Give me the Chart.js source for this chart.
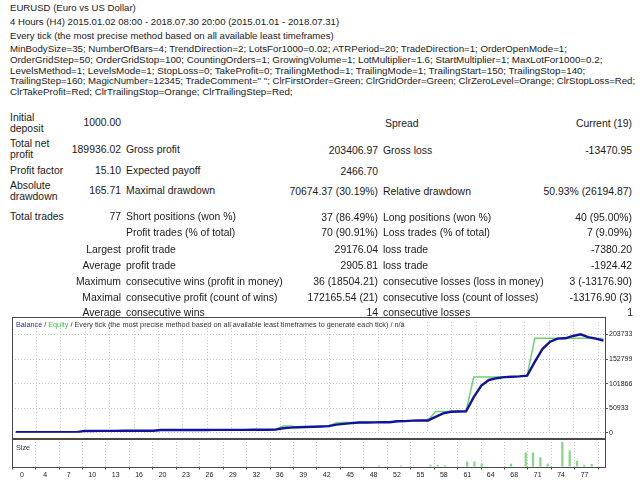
<!DOCTYPE html>
<html>
<head>
<meta charset="utf-8">
<script src="https://cdn.jsdelivr.net/npm/chart.js@4.4.1/dist/chart.umd.min.js"></script>
<style>
html, body { margin: 0; padding: 0; background: #fff; }
body { width: 640px; height: 480px; position: relative; overflow: hidden;
       font-family: "Liberation Sans", Arial, sans-serif; font-size: 9.5px; color: #1a1a1a; }
.t { position: absolute; white-space: nowrap; line-height: 11px; }
.frame { position: absolute; border: 1px solid #4a4a4a; box-sizing: border-box; pointer-events: none; }
.wrap { position: absolute; }
.small { color: #333; }
</style>
</head>
<body>
<div class="wrap" style="left:12px;top:317px;width:628px;height:121px;"><canvas id="equityChart"></canvas></div>
<div class="wrap" style="left:12px;top:438px;width:628px;height:42px;"><canvas id="sizeChart"></canvas></div>
<div class="frame" style="left:12px;top:317px;width:594px;height:122px;"></div>
<div class="frame" style="left:12px;top:439px;width:594px;height:29px;"></div>
<div id="legend" class="t small" style="left:16px;top:319px;"><span style="color:#2b2ba6">Balance</span> / <span style="color:#3cbf3c">Equity</span> / Every tick (the most precise method based on all available least timeframes to generate each tick) / n/a</div>
<div id="sizeLabel" class="t small" style="left:16px;top:442px;">Size</div>

<script>
// balance (blue) and equity (green) after each trade, trade 0 = initial deposit
const balance = [
    1000, 1046, 1093, 1141, 1190, 1262, 1310, 1371, 1425, 3790,
    3850, 3910, 3985, 4040, 4110, 4170, 4230, 4300, 4380, 5690,
    5720, 5760, 5800, 5830, 5870, 5920, 5960, 6010, 6060, 6100,
    6150, 6190, 6240, 6300, 6500, 9500, 10700, 11400, 11900, 12500,
    13200, 13900, 16900, 18600, 20100, 21200, 21400, 21500, 21700, 21900,
    24000, 24200, 25200, 25400, 25600, 33000, 40400, 43700, 44100, 44500,
    74000, 98000, 109400, 113100, 115300, 116200, 116900, 118400, 147000, 173500,
    188600, 195100, 195800, 200600, 204113, 198200, 195000, 190936
];
const equity = [
    1000, 1046, 1093, 1141, 1190, 1262, 1310, 1371, 1425, 3790,
    3850, 3910, 3985, 4040, 4110, 4170, 4230, 4300, 4380, 5690,
    5720, 5760, 5800, 5830, 5870, 5920, 5960, 6010, 6060, 6100,
    6150, 6190, 6240, 6300, 6500, 13900, 13900, 11400, 11900, 12500,
    13200, 13900, 21000, 21100, 21200, 21200, 21400, 21500, 21700, 21900,
    24000, 24200, 25200, 25400, 25600, 44300, 44300, 44300, 44300, 44500,
    115600, 115700, 115700, 115800, 115800, 116200, 116900, 118400, 195600, 195600,
    195700, 195700, 195800, 195800, 195800, 195700, 195500, 195300
];

// lot size of the trades that show a bar in the Size panel
const sizeTrades = [48, 51, 55, 56, 57, 60, 61, 62, 66, 68, 69, 70, 71, 73, 74, 75, 76, 77];
const sizeLots   = [0.4, 0.4, 0.9, 0.7, 0.5, 2.6, 2.6, 1.6, 1.4, 7.7, 7.7, 5.1, 1.4, 13.5, 8.8, 2.9, 0.9, 1.2];

const xTickLabels = ['0', '4', '7', '10', '13', '16', '20', '23', '26', '29', '32', '36', '39',
                     '42', '45', '48', '52', '55', '58', '61', '64', '68', '71', '74', '77'];
const xTickStep = 3.2;
const yTickValues = [0, 50933, 101866, 152799, 203733];

const FONT = '"Liberation Sans", Arial, sans-serif';
const GRID = '#c4c4c4';

// size a font so that a sample string gets the width it has in the reference
const measureCtx = document.createElement('canvas').getContext('2d');
function fitSize(str, width) {
    measureCtx.font = '10px ' + FONT;
    return 10 * width / measureCtx.measureText(str).width;
}
const headSize = 9.6;
const tableSize = fitSize('consecutive wins (profit in money)', 157);

const paramLines = [
    ['MinBodySize=35; NumberOfBars=4; TrendDirection=2; LotsFor1000=0.02; ATRPeriod=20; TradeDirection=1; OrderOpenMode=1;', 559],
    ['OrderGridStep=50; OrderGridStop=100; CountingOrders=1; GrowingVolume=1; LotMultiplier=1.6; StartMultiplier=1; MaxLotFor1000=0.2;', 593],
    ['LevelsMethod=1; LevelsMode=1; StopLoss=0; TakeProfit=0; TrailingMethod=1; TrailingMode=1; TrailingStart=150; TrailingStop=140;', 577],
    ['TrailingStep=160; MagicNumber=12345; TradeComment=" "; ClrFirstOrder=Green; ClrGridOrder=Green; ClrZeroLevel=Orange; ClrStopLoss=Red;', 626],
    ['ClrTakeProfit=Red; ClrTrailingStop=Orange; ClrTrailingStep=Red;', 0]
];
const paramSizes = paramLines.filter(p => p[1]).map(p => fitSize(p[0], p[1]));
const paramSize = paramSizes.reduce((a, b) => a + b, 0) / paramSizes.length;

// text part of the report: x, y (centre line), text, align, font size
const textRows = [
    [10, 7, 'EURUSD (Euro vs US Dollar)', 'l', headSize],
    [10, 21, '4 Hours (H4) 2015.01.02 08:00 - 2018.07.30 20:00 (2015.01.01 - 2018.07.31)', 'l', headSize],
    [10, 35, 'Every tick (the most precise method based on all available least timeframes)', 'l', headSize],

    [10, 117, 'Initial'], [10, 128, 'deposit'], [121, 122, '1000.00', 'r'],
    [385, 123, 'Spread'], [632, 123, 'Current (19)', 'r'],

    [10, 143, 'Total net'], [10, 154, 'profit'], [121, 149, '189936.02', 'r'], [126, 149, 'Gross profit'],
    [378, 150, '203406.97', 'r'], [383, 150, 'Gross loss'], [632, 150, '-13470.95', 'r'],

    [10, 170, 'Profit factor'], [121, 170, '15.10', 'r'], [126, 170, 'Expected payoff'], [378, 171, '2466.70', 'r'],

    [10, 185, 'Absolute'], [10, 196, 'drawdown'], [121, 190, '165.71', 'r'], [126, 190, 'Maximal drawdown'],
    [378, 191, '70674.37 (30.19%)', 'r'], [383, 191, 'Relative drawdown'], [632, 191, '50.93% (26194.87)', 'r'],

    [10, 216, 'Total trades'], [121, 216, '77', 'r'], [126, 216, 'Short positions (won %)'],
    [378, 217, '37 (86.49%)', 'r'], [383, 217, 'Long positions (won %)'], [632, 217, '40 (95.00%)', 'r'],

    [126, 232, 'Profit trades (% of total)'], [378, 232, '70 (90.91%)', 'r'],
    [383, 232, 'Loss trades (% of total)'], [632, 232, '7 (9.09%)', 'r'],

    [121, 249, 'Largest', 'r'], [126, 249, 'profit trade'], [378, 249, '29176.04', 'r'],
    [383, 249, 'loss trade'], [632, 249, '-7380.20', 'r'],

    [121, 265, 'Average', 'r'], [126, 265, 'profit trade'], [378, 265, '2905.81', 'r'],
    [383, 265, 'loss trade'], [632, 265, '-1924.42', 'r'],

    [121, 281, 'Maximum', 'r'], [126, 281, 'consecutive wins (profit in money)'], [378, 281, '36 (18504.21)', 'r'],
    [383, 281, 'consecutive losses (loss in money)'], [632, 281, '3 (-13176.90)', 'r'],

    [121, 297, 'Maximal', 'r'], [126, 297, 'consecutive profit (count of wins)'], [378, 297, '172165.54 (21)', 'r'],
    [383, 297, 'consecutive loss (count of losses)'], [632, 297, '-13176.90 (3)', 'r'],

    [121, 312, 'Average', 'r'], [126, 312, 'consecutive wins'], [378, 312, '14', 'r'],
    [383, 312, 'consecutive losses'], [633, 312, '1', 'r']
];
paramLines.forEach(([str, width], i) => {
    textRows.push([10, [48, 59, 70, 80, 91][i], str, 'l', width ? paramSizes[i] : paramSize]);
});

textRows.forEach(([x, y, str, align, size]) => {
    const d = document.createElement('div');
    d.className = 't';
    d.textContent = str;
    d.style.top = (y - 5.5) + 'px';
    d.style.fontSize = (size || tableSize) + 'px';
    if (align === 'r') d.style.right = (640 - x) + 'px';
    else d.style.left = x + 'px';
    document.body.appendChild(d);
});

const legendSize = fitSize(document.getElementById('legend').textContent, 389);
document.getElementById('legend').style.fontSize = legendSize + 'px';
document.getElementById('sizeLabel').style.fontSize = legendSize + 'px';

function xScale(showLabels) {
    return {
        type: 'linear',
        min: -0.5,
        max: 77.2,
        afterBuildTicks: s => { s.ticks = xTickLabels.map((_, i) => ({ value: i * xTickStep - 0.5 })); },
        afterFit: s => { if (!showLabels) s.height = 0; },
        ticks: {
            display: showLabels,
            autoSkip: false,
            maxRotation: 0,
            padding: 1,
            labelOffset: -2,
            color: '#222',
            font: { family: FONT, size: 7 },
            callback: (v, i) => xTickLabels[i]
        },
        grid: { color: GRID, drawTicks: showLabels, tickLength: 3, tickColor: '#555', tickBorderDash: [] },
        border: { display: false, dash: [1, 2] }
    };
}

new Chart(document.getElementById('equityChart').getContext('2d'), {
    type: 'line',
    data: {
        datasets: [{
            label: 'Balance',
            data: balance.map((v, i) => ({ x: i, y: v })),
            borderColor: '#12129c',
            borderWidth: 2.4,
            pointRadius: 0,
            tension: 0
        }, {
            label: 'Equity',
            data: equity.map((v, i) => ({ x: i, y: v })),
            borderColor: '#6fd06f',
            borderWidth: 1.5,
            pointRadius: 0,
            tension: 0
        }]
    },
    options: {
        responsive: true,
        maintainAspectRatio: false,
        animation: false,
        layout: { padding: 0 },
        plugins: { legend: { display: false }, tooltip: { enabled: false } },
        scales: {
            x: xScale(false),
            y: {
                position: 'right',
                min: 0,
                max: 229100,
                afterBuildTicks: s => { s.ticks = yTickValues.map(v => ({ value: v })); },
                afterFit: s => { s.width = 35; },
                ticks: { padding: 1, color: '#222', font: { family: FONT, size: 7 }, callback: v => String(v) },
                grid: { color: GRID, tickLength: 3, tickColor: '#555', tickBorderDash: [] },
                border: { display: false, dash: [1, 2] }
            }
        }
    }
});

new Chart(document.getElementById('sizeChart').getContext('2d'), {
    type: 'bar',
    data: {
        datasets: [{
            label: 'Size',
            data: sizeTrades.map((t, i) => ({ x: t, y: sizeLots[i] })),
            backgroundColor: '#86d886',
            barThickness: 1.6
        }]
    },
    options: {
        responsive: true,
        maintainAspectRatio: false,
        animation: false,
        layout: { padding: { top: 1 } },
        plugins: { legend: { display: false }, tooltip: { enabled: false } },
        scales: {
            x: xScale(true),
            y: {
                position: 'right',
                min: 0,
                max: 15.4,
                afterFit: s => { s.width = 35; },
                ticks: { display: false },
                grid: { display: false },
                border: { display: false }
            }
        }
    }
});
</script>
</body>
</html>
